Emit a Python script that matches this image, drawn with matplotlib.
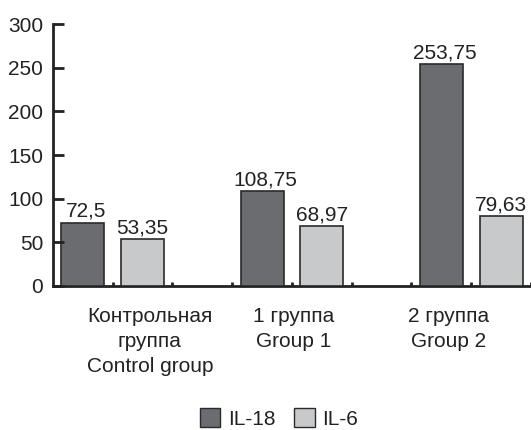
import matplotlib
matplotlib.use("Agg")
import matplotlib.pyplot as plt
from matplotlib.patches import Patch

groups = ["Контрольная\nгруппа\nControl group", "1 группа\nGroup 1", "2 группа\nGroup 2"]
il18 = [72.5, 108.75, 253.75]
il6 = [53.35, 68.97, 79.63]
il18_labels = ["72,5", "108,75", "253,75"]
il6_labels = ["53,35", "68,97", "79,63"]
group_label_x = [1.62, 4.02, 6.62]

plt.rcParams['font.family'] = ['Liberation Sans', 'DejaVu Sans']

dark = "#6b6c70"
light = "#c8c9cb"
edge = "#2a2a2a"

fig = plt.figure(figsize=(5.31, 4.30), dpi=100)
ax = fig.add_axes([0.0998, 0.335, 0.9002, 0.609])

bw = 0.72
for i in range(len(groups)):
    x0 = i * 3
    ax.bar(x0 + 0.5, il18[i], width=bw, color=dark, edgecolor=edge, linewidth=1.2)
    ax.bar(x0 + 1.5, il6[i], width=bw, color=light, edgecolor=edge, linewidth=1.2)
    ax.text(x0 + 0.55, il18[i] + 2, il18_labels[i], ha="center", va="bottom", fontsize=15, color="#222")
    ax.text(x0 + 1.5, il6[i] + 2, il6_labels[i], ha="center", va="bottom", fontsize=15, color="#222")
    ax.text(group_label_x[i], -24, groups[i], ha="center", va="top", fontsize=15,
            color="#222", linespacing=1.4)

ax.set_xlim(0, 8)
ax.set_ylim(0, 300)
ax.set_yticks([0, 50, 100, 150, 200, 250, 300])
ax.set_xticks([1, 2, 3, 4, 5, 6, 7, 8])
ax.set_xticklabels([])
ax.tick_params(axis="y", direction="in", length=8, width=2, labelsize=15, colors="#222", pad=7)
ax.tick_params(axis="x", direction="in", length=3, width=2, colors="#222")

for s in ["top", "right"]:
    ax.spines[s].set_visible(False)
for s in ["left", "bottom"]:
    ax.spines[s].set_linewidth(2)
    ax.spines[s].set_color("#222")
ax.spines["bottom"].set_zorder(0.5)

handles = [Patch(facecolor=dark, edgecolor=edge, label="IL-18"),
           Patch(facecolor=light, edgecolor=edge, label="IL-6")]
fig.legend(handles=handles, loc="center", bbox_to_anchor=(0.525, 0.027), ncol=2, frameon=False,
           fontsize=15, handlelength=1.0, handleheight=1.0, handletextpad=0.35, columnspacing=0.9,
           labelcolor="#222")

fig.savefig("out.png", dpi=100)
